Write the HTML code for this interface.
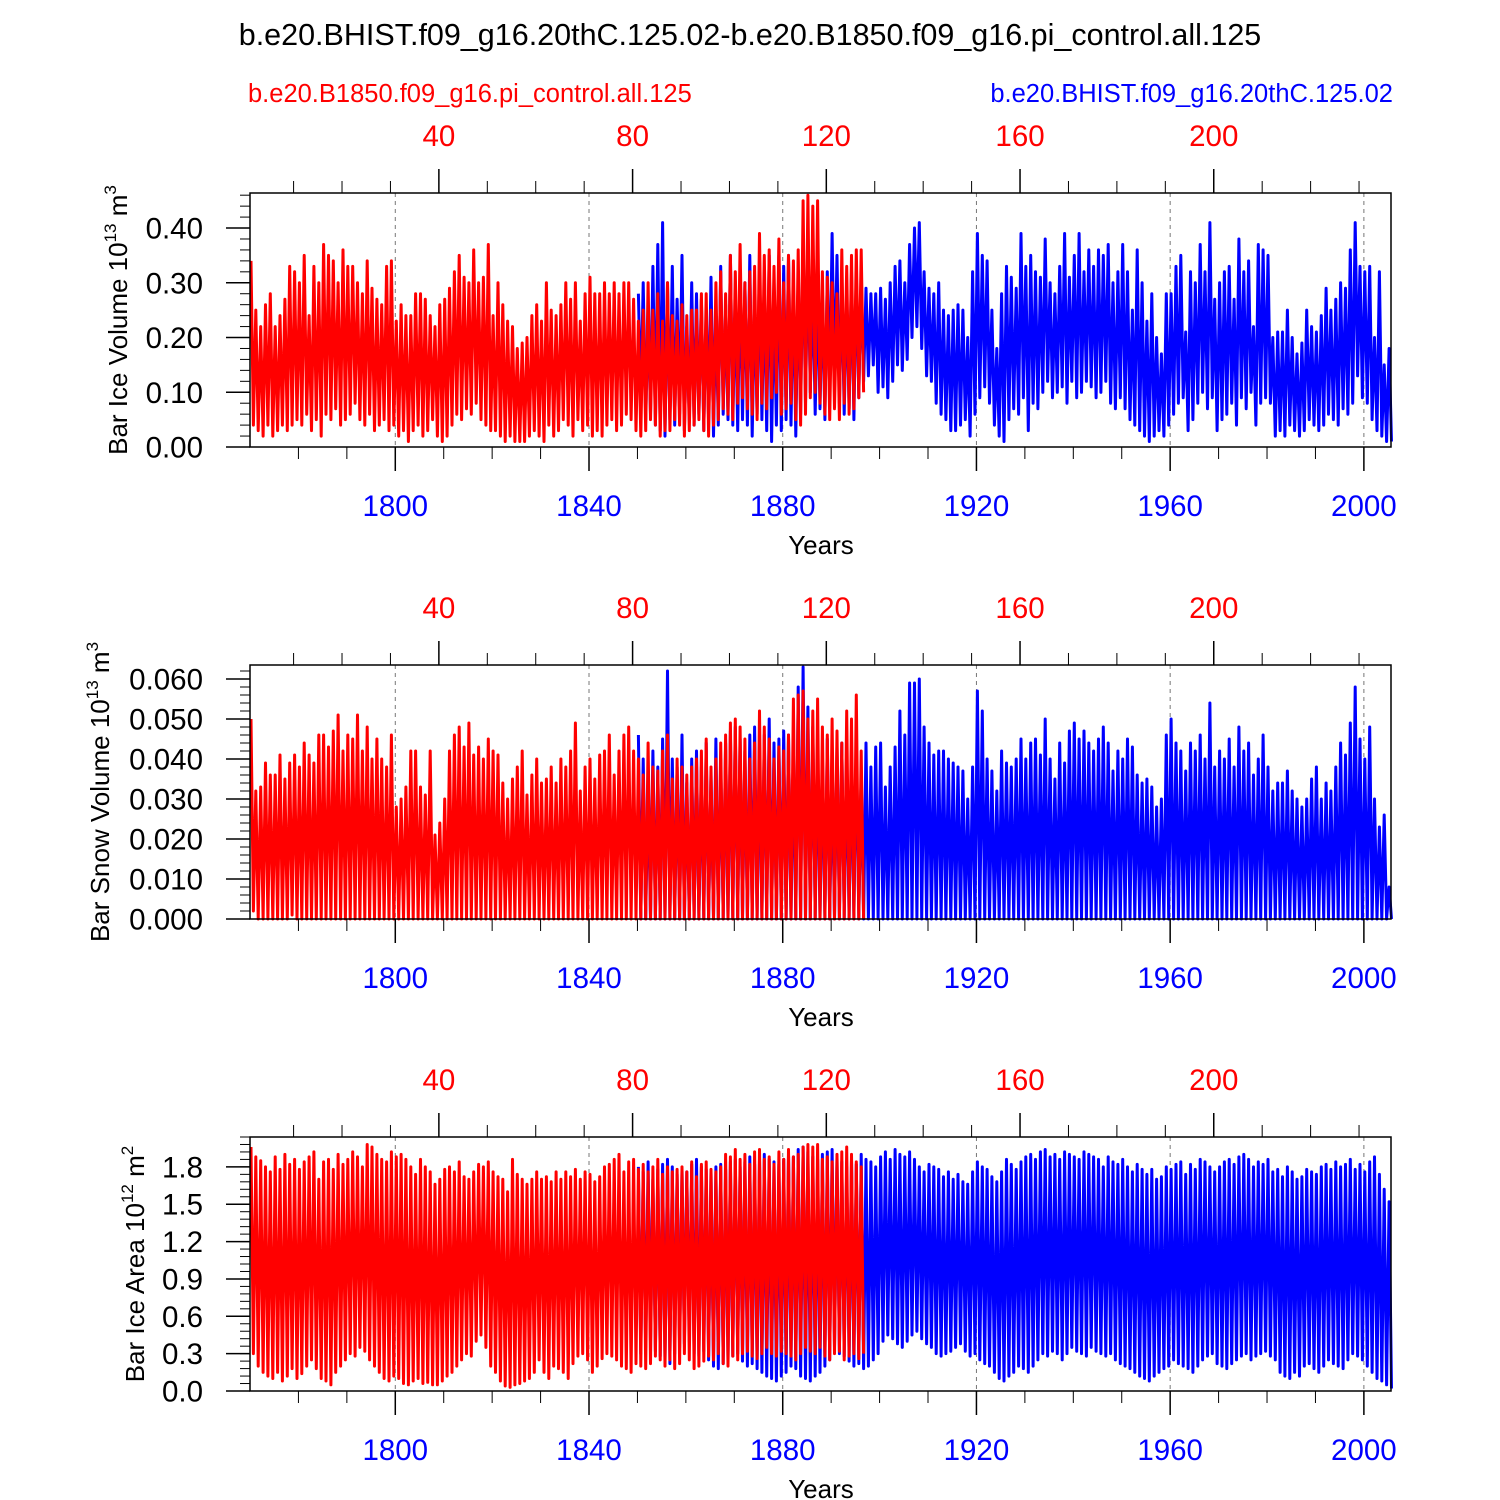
<!DOCTYPE html>
<html><head><meta charset="utf-8"><style>
html,body{margin:0;padding:0;background:#fff;}
svg{display:block;font-family:"Liberation Sans",Arial,sans-serif;}
</style></head><body>
<svg id="chart" width="1500" height="1500" viewBox="0 0 1500 1500">
<text x="750" y="45" font-size="30.5" text-anchor="middle">b.e20.BHIST.f09_g16.20thC.125.02-b.e20.B1850.f09_g16.pi_control.all.125</text>
<text x="248" y="102" font-size="25.5" fill="#f00">b.e20.B1850.f09_g16.pi_control.all.125</text>
<text x="1393" y="102" font-size="25.5" fill="#00f" text-anchor="end">b.e20.BHIST.f09_g16.20thC.125.02</text>
</svg>
<script>
// ---- data (yearly seasonal max / min) ----
const redStartYear = 1770;
const blueStartYear = 1850;
const volRedMax = [34,25,22,26,28,22,24,27,33,32,30,35,24,33,30,37,35,34,30,36,33,33,30,28,34,29,27,26,33,34,23,26,24,24,28,28,27,24,22,26,27,29,32,35,31,30,36,30,31,37,24,30,26,23,22,18,19,20,24,26,23,30,25,24,26,30,27,30,23,28,31,28,28,30,28,30,28,30,30,27,23,25,30,25,28,23,30,24,23,26,24,25,25,28,28,25,30,32,28,35,32,37,30,32,33,39,35,36,33,38,30,35,34,36,45,46,44,45,32,31,30,28,36,33,35,36,36];
const volRedMin = [4,3,2,4,2,3,4,3,4,5,4,6,3,5,2,6,5,7,4,5,6,8,5,4,6,3,4,5,3,4,2,3,1,3,4,2,3,5,2,1,2,4,6,5,7,6,8,5,4,3,3,2,1,2,1,1,1,2,3,2,1,4,2,3,5,4,2,5,3,4,2,3,2,4,5,3,4,6,5,3,2,3,5,4,2,3,3,5,4,2,3,4,5,3,2,4,5,7,6,5,8,9,7,6,5,8,7,9,10,6,7,8,5,4,6,9,10,8,6,5,7,5,8,6,7,9,10];
const volBlueMax = [28,30,25,33,37,41,30,33,27,35,22,30,28,27,25,31,25,33,26,35,28,32,30,35,27,34,30,35,28,35,33,35,30,31,38,36,30,30,28,32,39,35,30,28,32,32,31,29,28,28,29,27,30,33,34,30,37,40,41,32,29,28,30,25,24,25,26,25,20,32,39,35,34,25,18,28,33,31,29,39,33,35,32,31,38,30,28,33,39,31,35,39,32,36,33,36,35,37,30,32,37,32,25,36,30,23,28,20,17,28,28,33,35,21,32,30,37,32,41,27,30,32,33,27,38,32,34,22,37,36,35,20,21,21,25,20,17,19,25,22,21,24,29,25,27,30,29,36,41,33,32,33,20,32,15,18];
const volBlueMin = [8,5,6,4,3,2,5,4,6,3,5,4,6,3,5,2,4,6,5,4,3,5,4,2,6,5,3,1,4,3,5,4,2,6,8,10,6,7,5,9,11,8,6,7,5,9,12,13,15,10,11,9,12,15,14,16,20,22,18,13,12,8,6,5,3,3,4,5,2,6,9,11,8,4,2,1,5,7,6,9,3,8,7,10,12,9,10,11,8,12,9,10,12,11,9,10,12,8,7,9,7,5,4,3,2,1,2,3,2,4,6,8,9,3,5,8,10,7,9,3,5,6,8,4,9,7,10,4,8,9,8,2,3,2,4,3,2,3,5,4,3,4,6,5,4,7,6,8,13,9,8,5,3,2,1,1];
const snowRedMax = [50,32,33,39,36,36,41,35,39,41,38,44,41,39,46,46,43,47,51,42,46,45,51,42,48,40,45,40,38,46,28,30,33,42,42,33,31,42,21,24,30,42,46,48,43,49,41,43,40,45,42,41,34,30,35,38,42,31,36,40,34,35,38,34,40,38,42,49,32,38,40,35,41,42,46,36,42,46,48,42,40,36,44,38,37,42,46,35,40,38,36,38,40,42,45,38,40,44,46,49,50,48,45,40,44,52,48,45,40,43,42,46,55,56,57,50,52,55,48,46,50,47,44,52,50,56,42];
const snowRedMin = [2,0,0,0,0,0,0,0,1,0,0,0,0,0,0,0,0,0,0,0,0,0,0,0,0,0,0,0,0,0,0,0,0,0,0,0,0,0,0,0,0,0,0,0,0,0,0,0,0,0,0,0,0,0,0,0,0,0,0,0,0,0,0,0,0,0,0,0,0,0,0,0,0,0,0,0,0,0,0,0,0,0,0,0,0,0,0,0,0,0,0,0,0,0,0,0,0,0,0,0,0,0,0,0,0,0,0,0,0,0,0,0,0,0,0,0,0,0,0,0,0,0,0,0,0,0,0];
const snowBlueMax = [46,40,35,42,38,45,62,40,38,46,34,40,42,38,44,36,45,40,44,47,48,45,42,46,48,44,46,50,44,45,47,46,42,58,63,53,48,44,40,45,38,43,44,40,42,45,36,44,38,43,44,33,38,43,52,46,59,59,60,48,44,41,42,42,40,39,38,37,30,38,57,52,40,37,32,42,39,38,40,45,40,44,45,41,50,40,35,44,39,47,49,45,47,44,42,45,48,44,37,42,40,45,43,36,34,35,33,28,30,46,50,44,42,37,44,42,46,40,54,38,42,40,45,38,48,42,44,36,40,46,38,32,34,34,37,32,30,28,30,35,38,30,34,32,38,44,41,49,58,45,40,48,30,23,26,8];
const snowBlueMin = [0,0,0,0,0,0,0,0,0,0,0,0,0,0,0,0,0,0,0,0,0,0,0,0,0,0,0,0,0,0,0,0,0,0,0,0,0,0,0,0,0,0,0,0,0,0,0,0,0,0,0,0,0,0,0,0,0,0,0,0,0,0,0,0,0,0,0,0,0,0,0,0,0,0,0,0,0,0,0,0,0,0,0,0,0,0,0,0,0,0,0,0,0,0,0,0,0,0,0,0,0,0,0,0,0,0,0,0,0,0,0,0,0,0,0,0,0,0,0,0,0,0,0,0,0,0,0,0,0,0,0,0,0,0,0,0,0,0,0,0,0,0,0,0,0,0,0,0,0,0,0,0,0,0,0,0];
const areaRedMax = [196,188,185,180,176,188,178,190,182,186,178,184,188,192,170,184,186,178,190,182,186,192,188,180,198,196,190,186,184,192,188,190,186,180,174,186,180,176,166,170,178,180,176,184,172,170,176,182,180,184,176,172,170,160,186,174,170,166,170,176,170,172,168,176,170,176,172,178,170,176,174,168,172,180,182,186,190,176,184,186,178,182,176,180,186,174,180,176,178,180,176,184,172,182,184,178,176,180,190,188,194,186,190,182,192,194,186,188,182,192,186,194,188,190,196,198,196,198,186,188,184,190,192,196,190,184,180];
const areaRedMin = [30,20,15,12,10,15,8,12,18,10,14,20,25,18,10,8,5,15,20,25,30,28,35,32,25,20,15,10,8,12,10,6,5,8,10,6,7,5,5,8,12,15,20,25,30,28,40,45,35,20,15,8,4,3,5,6,8,10,15,25,15,10,20,18,15,10,22,28,30,25,15,20,26,30,28,25,20,18,15,22,20,18,22,28,25,20,25,18,22,30,25,18,20,24,28,25,30,22,20,28,25,30,32,28,26,30,35,30,28,32,30,28,25,30,35,32,30,35,28,25,30,32,25,28,30,26,30];
const areaBlueMax = [180,176,184,170,178,182,186,180,174,178,176,182,186,180,178,176,180,182,178,184,186,180,184,188,182,186,190,186,184,182,186,190,188,194,196,192,188,186,190,192,194,188,184,180,186,182,190,186,184,180,188,192,186,194,190,188,192,186,180,176,182,180,178,172,176,170,174,168,166,176,184,180,178,172,168,176,186,182,178,184,188,190,186,192,194,188,190,186,192,190,188,186,192,190,188,186,180,188,184,182,186,180,176,182,178,174,178,170,172,180,178,182,184,174,182,178,186,184,180,176,180,184,186,182,188,190,186,180,184,182,186,176,178,172,180,176,170,172,178,176,174,180,182,178,184,180,182,186,178,182,176,184,188,174,162,152];
const areaBlueMin = [30,35,40,32,28,25,22,30,35,38,40,30,28,32,25,20,18,22,25,28,30,24,20,22,18,15,12,10,8,12,15,20,18,12,10,8,12,15,20,25,35,30,28,24,20,22,18,20,25,30,40,45,42,38,35,40,45,48,42,38,35,30,28,30,32,35,38,32,28,30,25,22,20,15,10,8,12,15,20,18,15,20,25,30,28,32,30,25,30,35,32,30,28,35,32,30,28,30,25,22,20,18,15,12,10,8,12,15,18,20,25,22,20,18,15,20,25,28,30,22,20,18,22,25,28,30,25,28,30,32,28,25,15,12,10,15,12,20,22,18,15,20,25,22,20,18,25,30,28,25,20,15,10,8,5,2];

const NS="http://www.w3.org/2000/svg";
const svg=document.getElementById('chart');
const X0=250,X1=1391,YR0=1770,YR1=2005.6;
function xOf(yr){return X0+(yr-YR0)*(X1-X0)/(YR1-YR0);}
function mk(tag,attrs,parent){const e=document.createElementNS(NS,tag);for(const k in attrs)e.setAttribute(k,attrs[k]);(parent||svg).appendChild(e);return e;}

const panels=[
 {top:193,ymax:0.464,scale:0.01,ticks:[0,0.1,0.2,0.3,0.4],minor:0.02,dec:2,
  title:['Bar Ice Volume 10','13',' m','3'],tx:127,
  rMax:volRedMax,rMin:volRedMin,bMax:volBlueMax,bMin:volBlueMin,name:'ice-volume'},
 {top:665,ymax:0.0635,scale:0.001,ticks:[0,0.01,0.02,0.03,0.04,0.05,0.06],minor:0.002,dec:3,
  title:['Bar Snow Volume 10','13',' m','3'],tx:109,
  rMax:snowRedMax,rMin:snowRedMin,bMax:snowBlueMax,bMin:snowBlueMin,name:'snow-volume'},
 {top:1137,ymax:2.04,scale:0.01,ticks:[0,0.3,0.6,0.9,1.2,1.5,1.8],minor:0.06,dec:1,
  title:['Bar Ice Area 10','12',' m','2'],tx:144,
  rMax:areaRedMax,rMin:areaRedMin,bMax:areaBlueMax,bMin:areaBlueMin,name:'ice-area'}
];
const H=254;
panels.forEach(p=>{
 const bot=p.top+H;
 const yOf=v=>bot-v/p.ymax*H;
 const g=mk('g',{});
 
 
 for(let y=1800;y<=2000;y+=40){
  const l=mk('line',{x1:xOf(y),x2:xOf(y),y1:p.top,y2:bot,stroke:'#777','stroke-width':1,'stroke-dasharray':'4,4'},g);
  
  
 }
 function series(mx,mn,start,color,nm){
  let pts=[];
  for(let i=0;i<mx.length;i++){
   const yr=start+i;
   pts.push(xOf(yr+0.2).toFixed(1)+','+yOf(mx[i]*p.scale).toFixed(1));
   pts.push(xOf(yr+0.7).toFixed(1)+','+yOf(mn[i]*p.scale).toFixed(1));
  }
  const pl=mk('polyline',{points:pts.join(' '),fill:'none',stroke:color,'stroke-width':3,'stroke-linejoin':'round'},g);
  
  
 }
 series(p.bMax,p.bMin,blueStartYear,'#00f',p.name+'-blue-line');
 series(p.rMax,p.rMin,redStartYear,'#f00',p.name+'-red-line');
 const fr=mk('rect',{x:X0,y:p.top,width:X1-X0,height:H,fill:'none',stroke:'#000','stroke-width':1.5},g);
 
 
 for(let v=0;v<=p.ymax+1e-9;v+=p.minor){
  mk('line',{x1:X0-10,x2:X0,y1:yOf(v),y2:yOf(v),stroke:'#000','stroke-width':1},g);
 }
 p.ticks.forEach(v=>{
  mk('line',{x1:X0-24,x2:X0,y1:yOf(v),y2:yOf(v),stroke:'#000','stroke-width':1.5},g);
  const t=mk('text',{x:X0-47,y:yOf(v)+10.5,'font-size':29.5,'text-anchor':'end'},g);
  t.textContent=v.toFixed(p.dec);
  
  
 });
 for(let y=1780;y<=2000;y+=10){
  const major=y%40===0;
  mk('line',{x1:xOf(y),x2:xOf(y),y1:bot,y2:bot+(major?24:12),stroke:'#000','stroke-width':major?1.5:1},g);
 }
 for(let y=1800;y<=2000;y+=40){
  const t=mk('text',{x:xOf(y),y:bot+69,'font-size':29.5,'text-anchor':'middle',fill:'#00f'},g);
  t.textContent=y;
  
  
 }
 for(let k=10;k<=230;k+=10){
  const major=k%40===0;
  const x=xOf(k+1769);
  mk('line',{x1:x,x2:x,y1:p.top,y2:p.top-(major?24:12),stroke:'#000','stroke-width':major?1.5:1},g);
 }
 for(let k=40;k<=200;k+=40){
  const t=mk('text',{x:xOf(k+1769),y:p.top-47,'font-size':29.5,'text-anchor':'middle',fill:'#f00'},g);
  t.textContent=k;
  
  
 }
 const xt=mk('text',{x:821,y:bot+107,'font-size':26,'text-anchor':'middle'},g);
 xt.textContent='Years';
 
 
 const cy=p.top+H/2;
 const yt=mk('text',{x:0,y:0,'font-size':26,'text-anchor':'middle',transform:`translate(${p.tx},${cy}) rotate(-90)`},g);
 
 
 p.title.forEach((s,i)=>{
  const ts=mk('tspan',i%2===1?{'font-size':17,dy:-11}:(i>0?{dy:11}:{}),yt);
  ts.textContent=s;
 });
});
</script>
</body></html>
